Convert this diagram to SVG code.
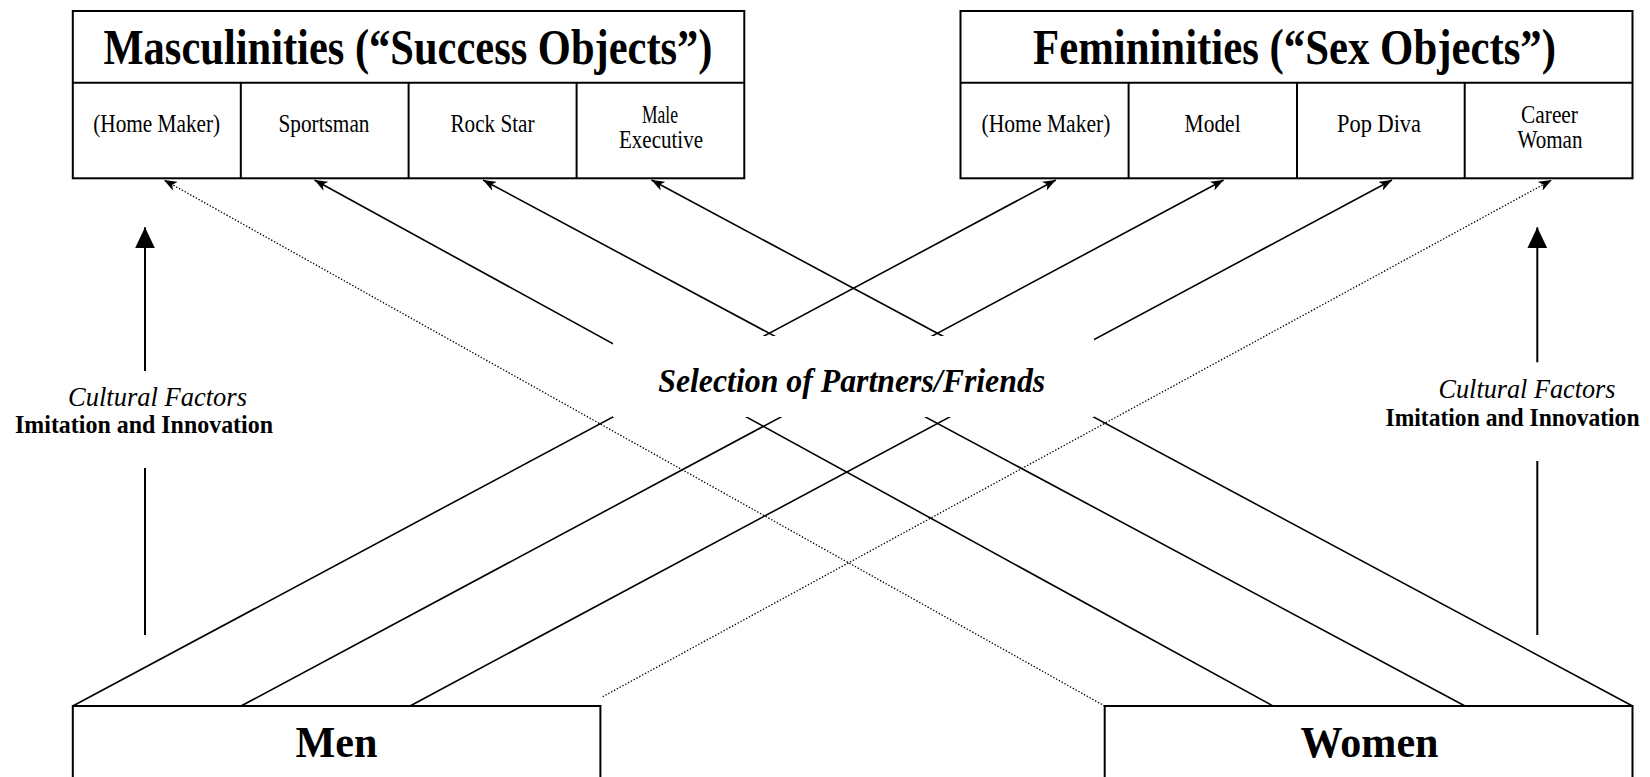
<svg xmlns="http://www.w3.org/2000/svg" width="1650" height="777" viewBox="0 0 1650 777">
  <style>
    text { font-family: "Liberation Serif", "Times New Roman", serif; fill: #000; }
    .box { fill: #fff; stroke: #000; stroke-width: 2; }
    .div { stroke: #000; stroke-width: 2; }
    .title { font-size: 50px; font-weight: bold; text-anchor: middle; }
    .cell { font-size: 24.5px; text-anchor: middle; }
    .group { font-size: 45px; font-weight: bold; text-anchor: middle; }
    .ital { font-size: 26.5px; font-style: italic; text-anchor: middle; }
    .bold { font-size: 25px; font-weight: bold; text-anchor: middle; }
    .sel { font-size: 34px; font-weight: bold; font-style: italic; text-anchor: middle; }
    .link { fill: none; stroke: #000; stroke-width: 1.6; marker-end: url(#head); }
    .dot { fill: none; stroke: #000; stroke-width: 1.3; stroke-dasharray: 1.4 1.8; marker-end: url(#head); }
    .vert { fill: none; stroke: #000; stroke-width: 2; }
  </style>
  <defs>
    <marker id="head" markerUnits="userSpaceOnUse" markerWidth="14" markerHeight="10" viewBox="0 0 14 10" refX="13" refY="5" orient="auto">
      <path d="M0,0 L13,5 L0,10 L3.5,5 Z" fill="#000"/>
    </marker>
    <marker id="tri" markerUnits="userSpaceOnUse" markerWidth="20" markerHeight="22" viewBox="0 0 20 22" refX="21" refY="10" orient="auto">
      <path d="M0,0 L21,10 L0,20 Z" fill="#000"/>
    </marker>
  </defs>

  <rect width="1650" height="777" fill="#fff"/>

  <!-- connectors -->
  <g id="connectors">
    <!-- Men to femininities -->
    <line class="link" x1="72.8" y1="706" x2="1055.8" y2="180"/>
    <line class="link" x1="241" y1="706" x2="1223.6" y2="180"/>
    <line class="link" x1="410" y1="706" x2="1392" y2="180"/>
    <line class="dot" x1="602.7" y1="696.7" x2="1551.7" y2="180"/>
    <!-- Women to masculinities -->
    <line class="link" x1="1632.5" y1="706" x2="651.5" y2="180"/>
    <line class="link" x1="1465" y1="706" x2="483" y2="180"/>
    <line class="link" x1="1273" y1="706" x2="314.5" y2="180"/>
    <line class="dot" x1="1104.7" y1="706" x2="164" y2="180"/>
    <!-- cultural factors arrows -->
    <line class="vert" x1="145" y1="635" x2="145" y2="468"/>
    <line class="vert" x1="145" y1="371" x2="145" y2="227.3" marker-end="url(#tri)"/>
    <line class="vert" x1="1537.3" y1="635" x2="1537.3" y2="461"/>
    <line class="vert" x1="1537.3" y1="362.3" x2="1537.3" y2="227.3" marker-end="url(#tri)"/>
  </g>

  <!-- Masculinities -->
  <g id="masculinities">
    <rect class="box" x="72.8" y="11" width="671.5" height="167.3"/>
    <line class="div" x1="72.8" y1="82.7" x2="744.3" y2="82.7"/>
    <line class="div" x1="240.8" y1="82.7" x2="240.8" y2="178.3"/>
    <line class="div" x1="408.6" y1="82.7" x2="408.6" y2="178.3"/>
    <line class="div" x1="576.6" y1="82.7" x2="576.6" y2="178.3"/>
    <text class="title" x="408" y="63.8" textLength="609" lengthAdjust="spacingAndGlyphs">Masculinities (“Success Objects”)</text>
    <text class="cell" x="156.7" y="132" textLength="127" lengthAdjust="spacingAndGlyphs">(Home Maker)</text>
    <text class="cell" x="324" y="132" textLength="91" lengthAdjust="spacingAndGlyphs">Sportsman</text>
    <text class="cell" x="492.5" y="132" textLength="84" lengthAdjust="spacingAndGlyphs">Rock Star</text>
    <text class="cell" x="660" y="123" textLength="36" lengthAdjust="spacingAndGlyphs">Male</text>
    <text class="cell" x="661" y="147.5" textLength="84" lengthAdjust="spacingAndGlyphs">Executive</text>
  </g>

  <!-- Femininities -->
  <g id="femininities">
    <rect class="box" x="960.5" y="11" width="672" height="167.3"/>
    <line class="div" x1="960.5" y1="82.7" x2="1632.5" y2="82.7"/>
    <line class="div" x1="1128.6" y1="82.7" x2="1128.6" y2="178.3"/>
    <line class="div" x1="1297" y1="82.7" x2="1297" y2="178.3"/>
    <line class="div" x1="1464.7" y1="82.7" x2="1464.7" y2="178.3"/>
    <text class="title" x="1294.5" y="63.8" textLength="523" lengthAdjust="spacingAndGlyphs">Femininities (“Sex Objects”)</text>
    <text class="cell" x="1046" y="132" textLength="129" lengthAdjust="spacingAndGlyphs">(Home Maker)</text>
    <text class="cell" x="1212.6" y="132" textLength="56" lengthAdjust="spacingAndGlyphs">Model</text>
    <text class="cell" x="1379" y="132" textLength="84" lengthAdjust="spacingAndGlyphs">Pop Diva</text>
    <text class="cell" x="1549.5" y="123" textLength="57" lengthAdjust="spacingAndGlyphs">Career</text>
    <text class="cell" x="1550" y="148" textLength="65" lengthAdjust="spacingAndGlyphs">Woman</text>
  </g>

  <!-- Selection label over crossing links -->
  <g id="selection">
    <rect x="613" y="336" width="481" height="81" fill="#fff"/>
    <text class="sel" x="851.7" y="392.3" textLength="387" lengthAdjust="spacingAndGlyphs">Selection of Partners/Friends</text>
  </g>

  <!-- Cultural factors labels -->
  <g id="culture-left">
    <text class="ital" x="157.5" y="406" textLength="179" lengthAdjust="spacingAndGlyphs">Cultural Factors</text>
    <text class="bold" x="144" y="433.3" textLength="258" lengthAdjust="spacingAndGlyphs">Imitation and Innovation</text>
  </g>
  <g id="culture-right">
    <text class="ital" x="1527" y="397.7" textLength="177" lengthAdjust="spacingAndGlyphs">Cultural Factors</text>
    <text class="bold" x="1512.5" y="426" textLength="254" lengthAdjust="spacingAndGlyphs">Imitation and Innovation</text>
  </g>

  <!-- Men -->
  <g id="men">
    <rect class="box" x="72.8" y="706" width="527.6" height="120"/>
    <text class="group" x="336.5" y="757.3" textLength="82" lengthAdjust="spacingAndGlyphs">Men</text>
  </g>

  <!-- Women -->
  <g id="women">
    <rect class="box" x="1104.7" y="706" width="527.8" height="120"/>
    <text class="group" x="1369.5" y="757.3" textLength="138" lengthAdjust="spacingAndGlyphs">Women</text>
  </g>
</svg>
